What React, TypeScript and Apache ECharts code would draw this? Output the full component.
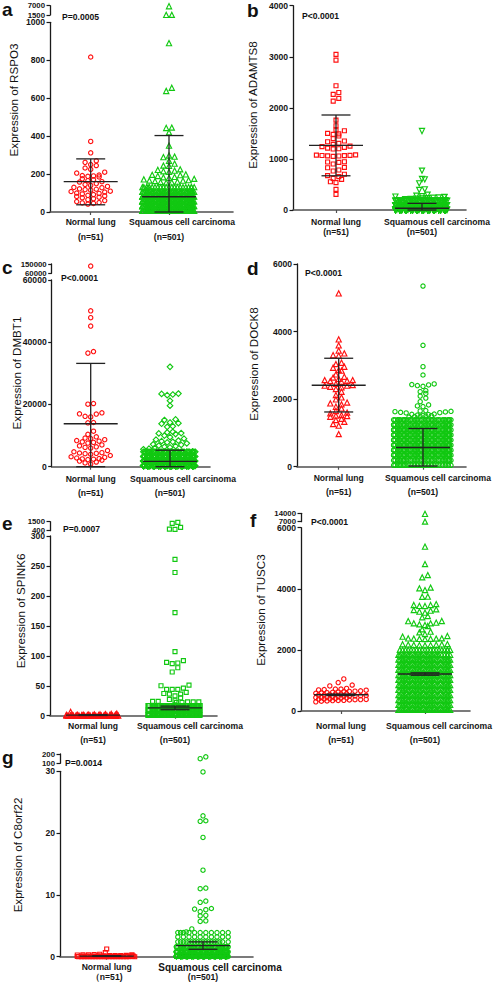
import React, { useEffect, useRef } from "react";
import * as echarts from "echarts";

// ---------------- data ----------------
const groupNames = ["Normal lung", "Squamous cell carcinoma"];

// Panel a: RSPO3
const aNormal = [817, 372, 312, 270, 262, 250, 245, 232, 225, 210, 205, 195, 192, 190, 188, 185, 175, 170, 165, 160, 158, 150, 145, 140, 135, 130, 128, 122, 120, 118, 115, 110, 108, 105, 100, 98, 95, 92, 88, 85, 82, 78, 75, 70, 65, 60, 55, 50, 48, 45, 42];
const aSquamous = [6700, 1600, 1550, 890, 655, 638, 445, 443, 420, 350, 298, 292, 289, 270, 255, 245, 243, 225, 222, 218, 215, 212, 198, 196, 194, 190, 185, 183, 180, 175, 172, 168, 166, 165, 163, 160, 158, 156, 155];
const aSquamousRows: [number, number][] = [[131, 22], [106, 60], [81, 90], [56, 100], [31, 100], [6, 90]];
const aStats = [[160, 38, 280], [80, 0, 403]];
const aBreak = [1500, 7000];

// Panel b: ADAMTS8
const bNormal = [3046, 2935, 2433, 2300, 2263, 2185, 2133, 1761, 1650, 1565, 1552, 1500, 1490, 1480, 1448, 1396, 1350, 1337, 1305, 1285, 1250, 1240, 1226, 1210, 1200, 1194, 1080, 1075, 1070, 1068, 1065, 1060, 1057, 1050, 945, 940, 933, 900, 835, 828, 783, 763, 700, 672, 652, 620, 600, 554, 535, 404, 306];
const bSquamous = [1546, 770, 607, 600, 522, 405, 392, 300, 280, 270, 262, 255, 250, 245, 240, 232, 228, 220, 215, 210];
const bSquamousRows: [number, number][] = [[5, 300], [95, 130], [185, 51]];
const bStats = [[1265, 670, 1860], [35, 0, 130]];

// Panel c: DMBT1
const cNormal = [130000, 50100, 47900, 45200, 37000, 36500, 20300, 20100, 17300, 17000, 16900, 16200, 16000, 14200, 14100, 11400, 10400, 9600, 9200, 9000, 8700, 8400, 8200, 8000, 7800, 7600, 7000, 6700, 6400, 6200, 6000, 5200, 4800, 4500, 4400, 4300, 4200, 4000, 3600, 3200, 3000, 2800, 2600, 2500, 2400, 2300, 2100, 1800, 1500, 1200, 850];
const cSquamous = [32100, 23500, 23400, 23200, 23000, 21200, 19600, 15200, 15000, 14200, 14000, 13800, 13000, 12800, 11200, 11000, 10800, 10700, 10500, 10000, 9500, 9000, 8700, 8400, 8200, 8000, 7800, 7500, 7200, 7000, 6800, 6600, 6400, 6200, 6000, 5800, 5600];
const cSquamousRows: [number, number][] = [[300, 204], [1800, 140], [3300, 80], [4800, 40]];
const cStats = [[13800, 0, 33200], [1700, 0, 5300]];
const cBreak = [60000, 150000];

// Panel d: DOCK8
const dNormal = [5131, 3769, 3592, 3434, 3355, 3300, 3286, 3078, 3039, 2960, 2930, 2860, 2842, 2733, 2664, 2640, 2600, 2565, 2565, 2545, 2536, 2516, 2450, 2417, 2398, 2398, 2368, 2348, 2300, 2220, 2121, 2050, 1993, 1900, 1875, 1845, 1776, 1727, 1650, 1600, 1579, 1529, 1510, 1500, 1480, 1420, 1381, 1332, 1263, 1214, 967];
const dSquamous = [5348, 3592, 2960, 2714, 2450, 2430, 2420, 2400, 2380, 2250, 2220, 2170, 2090, 2030, 1924, 1830, 1800, 1780, 1660, 1650, 1640, 1630, 1620, 1610, 1600, 1590, 1560, 1550, 1540, 1530, 1520, 1510, 1500, 1490, 1480, 1470];
const dSquamousRows: [number, number][] = [[40, 25], [190, 35], [340, 55], [490, 55], [640, 55], [790, 55], [940, 55], [1090, 50], [1240, 45], [1390, 35]];
const dStats = [[2410, 1620, 3210], [570, 20, 1130]];

// Panel e: SPINK6
const eNormal = [6.5, 3.5, 3, 2.5, 2.2, 2, 1.8, 1.6, 1.5, 1.4, 1.3, 1.2, 1.1, 1, 1, 0.9, 0.9, 0.8, 0.8, 0.7, 0.7, 0.6, 0.6, 0.5, 0.5, 0.5, 0.4, 0.4, 0.4, 0.3, 0.3, 0.3, 0.3, 0.2, 0.2, 0.2, 0.2, 0.1, 0.1, 0.1, 0.1, 0.1, 0.05, 0.05, 0.05, 0.05, 0.02, 0.02, 0.01, 0.01, 0];
const eSquamous = [1420, 1300, 810, 600, 560, 261, 239, 172, 107, 92, 89, 88, 87, 80, 73, 51, 50, 46, 44, 44, 44, 39, 37, 36, 36, 33, 30, 27, 25, 24, 24, 23, 23, 23, 22, 22];
const eSquamousRows: [number, number][] = [[1, 200], [9, 160], [17, 105]];
const eStats = [[1, 0.4, 1.6], [13, 10, 16]];
const eBreak = [400, 1500];

// Panel f: TUSC3
const fNormal = [1050, 930, 850, 820, 740, 720, 720, 700, 690, 680, 660, 650, 640, 630, 620, 610, 600, 590, 580, 570, 560, 550, 540, 530, 520, 510, 500, 495, 490, 480, 470, 460, 450, 445, 440, 430, 420, 410, 400, 395, 390, 380, 375, 370, 360, 350, 345, 340, 330, 320, 300];
const fSquamous = [13500, 7100, 5380, 4810, 4450, 4375, 4040, 4015, 3960, 3742, 3740, 3500, 3470, 3470, 3440, 3437, 3330, 3306, 3284, 3251, 3218, 3110, 3066, 2946, 2940, 2891, 2870, 2870, 2837, 2815, 2782, 2673, 2597, 2575, 2520, 2455, 2433, 2380, 2375, 2370, 2368, 2365, 2360, 2355, 2190, 2185, 2180, 2175, 2170, 2165, 2160, 2155, 2150];
const fSquamousRows: [number, number][] = [[40, 40], [200, 36], [360, 36], [520, 36], [690, 36], [850, 36], [1020, 36], [1180, 36], [1350, 36], [1510, 36], [1680, 36], [1840, 28], [2000, 20]];
const fStats = [[530, 505, 555], [1210, 1170, 1250]];
const fBreak = [7000, 14000];

// Panel g: C8orf22
const gNormal = [1.24, 0.65, 0.4, 0.35, 0.3, 0.3, 0.28, 0.25, 0.25, 0.22, 0.2, 0.2, 0.18, 0.15, 0.15, 0.12, 0.1, 0.1, 0.1, 0.08, 0.08, 0.06, 0.06, 0.05, 0.05, 0.05, 0.04, 0.04, 0.03, 0.03, 0.03, 0.02, 0.02, 0.02, 0.02, 0.01, 0.01, 0.01, 0.01, 0.01, 0, 0, 0, 0, 0, 0, 0, 0, 0, 0, 0];
const gSquamous = [170, 150, 29.9, 22.8, 22.0, 21.9, 19.3, 14.0, 11.1, 11.0, 9.0, 8.8, 7.8, 7.7, 7.6, 7.3, 6.7, 6.6, 5.8, 5.7, 4.5, 4.0, 3.9];
const gSquamousRows: [number, number][] = [[0.05, 250], [0.8, 140], [1.6, 50], [2.4, 18], [3.2, 10], [3.9, 10]];
const gStats = [[0.1, 0.05, 0.15], [1.8, 1.2, 2.4]];
const gBreak = [100, 200];

// ---------------- styling / layout ----------------
const FONT = "'Liberation Sans', Arial, Helvetica, sans-serif";
const RED = "#ff1010";
const GREEN = "#12c812";
const BAR = "#222222";

type Panel = {
  letter: string; title: string; p: string; nLab: [string, string];
  normal: number[]; squamous: number[]; squamousRows: [number, number][];
  stats: number[][]; yMax: number; yStep: number; brk?: number[];
  sym: [string, string]; rot: [number, number]; size: [number, number];
  L: { ax: number; xEnd: number; top: number; y0: number; bTop?: number; bBot?: number;
    cx: [number, number]; cols: [number, number]; title: [number, number];
    letter: [number, number]; pPos: [number, number]; labM: number; labLH: number;
    sqShift: number; sqFont: number };
};

const panels: Panel[] = [
  { letter: "a", title: "Expression of RSPO3", p: "P=0.0005", nLab: ["(n=51)", "(n=501)"],
    normal: aNormal, squamous: aSquamous, squamousRows: aSquamousRows, stats: aStats,
    yMax: 1000, yStep: 200, brk: aBreak, sym: ["circle", "triangle"], rot: [0, 0], size: [4.3, 5.2],
    L: { ax: 50, xEnd: 233, top: 22.3, y0: 212, bTop: 5.7, bBot: 15, cx: [90.7, 169], cols: [10, 10],
      title: [13, 100], letter: [2, 9.5], pPos: [62, 16.7], labM: 2, labLH: 15.6, sqShift: 13, sqFont: 8.6 } },
  { letter: "b", title: "Expression of ADAMTS8", p: "P<0.0001", nLab: ["(n=51)", "(n=501)"],
    normal: bNormal, squamous: bSquamous, squamousRows: bSquamousRows, stats: bStats,
    yMax: 4000, yStep: 1000, sym: ["rect", "triangle"], rot: [0, 180], size: [4, 5.2],
    L: { ax: 293, xEnd: 466, top: 5.7, y0: 210, cx: [336, 422], cols: [10, 10],
      title: [252, 105], letter: [247, 10], pPos: [302, 15.7], labM: 6.7, labLH: 10, sqShift: 15, sqFont: 8.6 } },
  { letter: "c", title: "Expression of DMBT1", p: "P<0.0001", nLab: ["(n=51)", "(n=501)"],
    normal: cNormal, squamous: cSquamous, squamousRows: cSquamousRows, stats: cStats,
    yMax: 60000, yStep: 20000, brk: cBreak, sym: ["circle", "diamond"], rot: [0, 0], size: [4.3, 5.6],
    L: { ax: 51.7, xEnd: 210, top: 280, y0: 466.7, bTop: 264, bBot: 273.3, cx: [90.7, 170], cols: [10, 10],
      title: [16, 373], letter: [2, 267.5], pPos: [61, 277.7], labM: 5.6, labLH: 14, sqShift: 13, sqFont: 8.6 } },
  { letter: "d", title: "Expression of DOCK8", p: "P<0.0001", nLab: ["(n=51)", "(n=501)"],
    normal: dNormal, squamous: dSquamous, squamousRows: dSquamousRows, stats: dStats,
    yMax: 6000, yStep: 2000, sym: ["triangle", "circle"], rot: [0, 0], size: [5.2, 4.3],
    L: { ax: 297, xEnd: 466, top: 264, y0: 466.7, cx: [338.7, 423], cols: [10, 11],
      title: [253, 364], letter: [247, 268.5], pPos: [305, 273.3], labM: 4, labLH: 14, sqShift: 15, sqFont: 8.6 } },
  { letter: "e", title: "Expression of SPINK6", p: "P=0.0007", nLab: ["(n=51)", "(n=501)"],
    normal: eNormal, squamous: eSquamous, squamousRows: eSquamousRows, stats: eStats,
    yMax: 300, yStep: 50, brk: eBreak, sym: ["triangle", "rect"], rot: [0, 0], size: [5.2, 4],
    L: { ax: 50, xEnd: 217, top: 536, y0: 715.7, bTop: 521.7, bBot: 530.7, cx: [93, 175], cols: [10, 10],
      title: [20, 611], letter: [2, 523.5], pPos: [63, 529], labM: 3.6, labLH: 13.5, sqShift: 15, sqFont: 8.6 } },
  { letter: "f", title: "Expression of TUSC3", p: "P<0.0001", nLab: ["(n=51)", "(n=501)"],
    normal: fNormal, squamous: fSquamous, squamousRows: fSquamousRows, stats: fStats,
    yMax: 6000, yStep: 2000, brk: fBreak, sym: ["circle", "triangle"], rot: [0, 0], size: [4.3, 5.2],
    L: { ax: 301, xEnd: 470, top: 527.7, y0: 711, bTop: 513.3, bBot: 521.7, cx: [341, 425], cols: [10, 10],
      title: [260.5, 610], letter: [250, 520.5], pPos: [311, 521.7], labM: 8.3, labLH: 13.5, sqShift: 14, sqFont: 8.6 } },
  { letter: "g", title: "Expression of C8orf22", p: "P=0.0014", nLab: ["（n=51)", "(n=501)"],
    normal: gNormal, squamous: gSquamous, squamousRows: gSquamousRows, stats: gStats,
    yMax: 30, yStep: 10, brk: gBreak, sym: ["rect", "circle"], rot: [0, 0], size: [4, 4.3],
    L: { ax: 60, xEnd: 253, top: 771.3, y0: 956.7, bTop: 754, bBot: 763.3, cx: [106.7, 203], cols: [11, 10],
      title: [17, 855], letter: [2, 757.5], pPos: [65, 763.3], labM: 5.3, labLH: 10, sqShift: 17, sqFont: 10 } },
];

const D = 5.6; // column spacing (px)
const ROW_H = 4.2; // row height (px)
const MEAN_HALF = 27;
const CAP_HALF = 14.5;

function expandRows(rows: [number, number][]): number[] {
  const out: number[] = [];
  rows.forEach(([v, n]) => { for (let i = 0; i < n; i++) out.push(v); });
  return out;
}

// beeswarm layout: x offsets in px, y kept as data value
function swarm(vals: number[], center: number, pxPer: number, base: number, cols: number): number[][] {
  const s = [...vals].sort((a, b) => a - b);
  const out: number[][] = [];
  let row: number[] = [];
  let start = -1e9;
  const flush = () => {
    const n = row.length;
    if (!n) return;
    if (n <= cols) {
      const offs = Array.from({ length: n }, (_, i) => (i - (n - 1) / 2) * D)
        .sort((p, q) => Math.abs(p) - Math.abs(q) || p - q);
      row.forEach((v, i) => out.push([center + offs[i], v]));
    } else {
      row.forEach((v, i) => {
        const pass = Math.floor(i / cols);
        const shift = pass === 0 ? 0 : (pass % 2 ? D / 2 : -D / 4);
        out.push([center + ((i % cols) - (cols - 1) / 2) * D + shift * (i % cols === cols - 1 && shift > 0 ? -1 : 1), v]);
      });
    }
  };
  for (const v of s) {
    const px = (v - base) * pxPer;
    if (px - start >= ROW_H) { flush(); row = []; start = px; }
    row.push(v);
  }
  flush();
  return out;
}

function txt(text: string, x: number, y: number, size: number, weight: string, align: string, rotation = 0) {
  return {
    type: "text", x, y, rotation, silent: true,
    style: { text, fill: "#111", fontSize: size, fontWeight: weight, fontFamily: FONT,
      align, verticalAlign: "middle", textAlign: align, textVerticalAlign: "middle" },
  };
}

function buildOption() {
  const grid: any[] = [], xAxis: any[] = [], yAxis: any[] = [], series: any[] = [], graphic: any[] = [];
  const labelStyle = { fontSize: 8.6, fontWeight: "bold", fontFamily: FONT, color: "#151515" };
  panels.forEach((pn) => {
    const L = pn.L;
    const W = L.xEnd - L.ax;
    const mainH = L.y0 - L.top;
    const offs = [L.cx[0] - L.ax, L.cx[1] - L.ax];
    const labelAt = [offs[0], offs[1] + L.sqShift];
    const gi = grid.length;
    grid.push({ left: L.ax, top: L.top, width: W, height: mainH });
    const rt = { ...labelStyle, lineHeight: L.labLH };
    xAxis.push({
      gridIndex: gi, type: "value", min: 0, max: W,
      axisLine: { show: true, onZero: false, lineStyle: { color: "#505050", width: 1.6 } },
      axisTick: { show: true, customValues: offs, length: 3, lineStyle: { color: "#505050", width: 1.2 } },
      axisLabel: {
        ...labelStyle, customValues: labelAt, margin: L.labM, lineHeight: L.labLH, hideOverlap: false,
        formatter: (v: number) => {
          const g = Math.abs(v - offs[0]) < Math.abs(v - offs[1]) ? 0 : 1;
          return g === 0 ? `{nm|${groupNames[0]}}\n{n|${pn.nLab[0]}}` : `{sq|${groupNames[1]}}\n{ns|${pn.nLab[1]}}`;
        },
        rich: {
          nm: { ...rt },
          n: { ...rt },
          sq: { ...rt, fontSize: L.sqFont },
          ns: { ...rt, padding: [0, 2 * L.sqShift, 0, 0] },
        },
      },
      splitLine: { show: false },
    });
    yAxis.push({
      gridIndex: gi, type: "value", min: 0, max: pn.yMax, interval: pn.yStep,
      axisLine: { show: true, onZero: false, lineStyle: { color: "#1a1a1a", width: 1.3 } },
      axisTick: { show: true, length: 3.5, lineStyle: { color: "#1a1a1a", width: 1.2 } },
      axisLabel: { ...labelStyle, margin: 5, formatter: (v: number) => String(v) },
      splitLine: { show: false },
    });
    let bi = -1;
    if (pn.brk && L.bTop !== undefined && L.bBot !== undefined) {
      bi = grid.length;
      grid.push({ left: L.ax, top: L.bTop, width: W, height: L.bBot - L.bTop });
      xAxis.push({ gridIndex: bi, type: "value", min: 0, max: W, show: false });
      yAxis.push({
        gridIndex: bi, type: "value", min: pn.brk[0], max: pn.brk[1],
        axisLine: { show: true, onZero: false, lineStyle: { color: "#1a1a1a", width: 1.3 } },
        axisTick: { show: true, customValues: pn.brk, length: 3.5, lineStyle: { color: "#1a1a1a", width: 1.2 } },
        axisLabel: { ...labelStyle, fontSize: 7.8, customValues: pn.brk, margin: 5, formatter: (v: number) => String(v) },
        splitLine: { show: false },
      });
    }
    const mainPx = mainH / pn.yMax;
    [0, 1].forEach((g) => {
      const vals = g === 0 ? pn.normal : [...pn.squamous, ...expandRows(pn.squamousRows)];
      const color = g === 0 ? RED : GREEN;
      const common = {
        type: "scatter", symbol: pn.sym[g], symbolSize: pn.size[g], symbolRotate: pn.rot[g],
        itemStyle: { color: "rgba(255,255,255,0)", borderColor: color, borderWidth: 1.15, opacity: 1 },
        silent: true, z: 2, animation: false,
      };
      const mainVals = vals.filter((v) => v <= pn.yMax);
      series.push({ ...common, xAxisIndex: gi, yAxisIndex: gi, data: swarm(mainVals, offs[g], mainPx, 0, L.cols[g]) });
      if (bi >= 0 && pn.brk) {
        const bv = vals.filter((v) => v > pn.yMax);
        const bpx = ((L.bBot as number) - (L.bTop as number)) / (pn.brk[1] - pn.brk[0]);
        if (bv.length) series.push({ ...common, xAxisIndex: bi, yAxisIndex: bi, data: swarm(bv, offs[g], bpx, pn.brk[0], L.cols[g]) });
      }
    });
    series.push({
      type: "custom", xAxisIndex: gi, yAxisIndex: gi, z: 5, silent: true, clip: false,
      encode: { x: 0, y: 1 },
      data: [0, 1].map((g) => [offs[g], pn.stats[g][0], pn.stats[g][1], pn.stats[g][2]]),
      renderItem: (_p: any, api: any) => {
        const cx = api.value(0), m = api.value(1), lo = api.value(2), hi = api.value(3);
        const c = (x: number, y: number) => api.coord([x, y]);
        const ln = (a: number[], b: number[], w: number) => ({
          type: "line", shape: { x1: a[0], y1: a[1], x2: b[0], y2: b[1] },
          style: { stroke: BAR, lineWidth: w },
        });
        return {
          type: "group",
          children: [
            ln(c(cx - MEAN_HALF, m), c(cx + MEAN_HALF, m), 1.4),
            ln(c(cx, lo), c(cx, hi), 1.3),
            ln(c(cx - CAP_HALF, hi), c(cx + CAP_HALF, hi), 1.3),
            ln(c(cx - CAP_HALF, lo), c(cx + CAP_HALF, lo), 1.3),
          ],
        };
      },
    });
    graphic.push(txt(pn.letter, L.letter[0], L.letter[1], 19, "bold", "left"));
    graphic.push(txt(pn.p, L.pPos[0], L.pPos[1], 8.6, "bold", "left"));
    graphic.push(txt(pn.title, L.title[0], L.title[1], 11.6, "normal", "center", Math.PI / 2));
  });
  return { animation: false, backgroundColor: "#ffffff", grid, xAxis, yAxis, series, graphic };
}

export default function App() {
  const ref = useRef<HTMLDivElement>(null);
  useEffect(() => {
    if (!ref.current) return;
    const chart = echarts.init(ref.current, undefined, { renderer: "svg" });
    chart.setOption(buildOption() as any);
    return () => chart.dispose();
  }, []);
  return (
    <div
      ref={ref}
      style={{ position: "absolute", left: 0, top: 0, width: 496, height: 983, background: "#fff" }}
    />
  );
}
